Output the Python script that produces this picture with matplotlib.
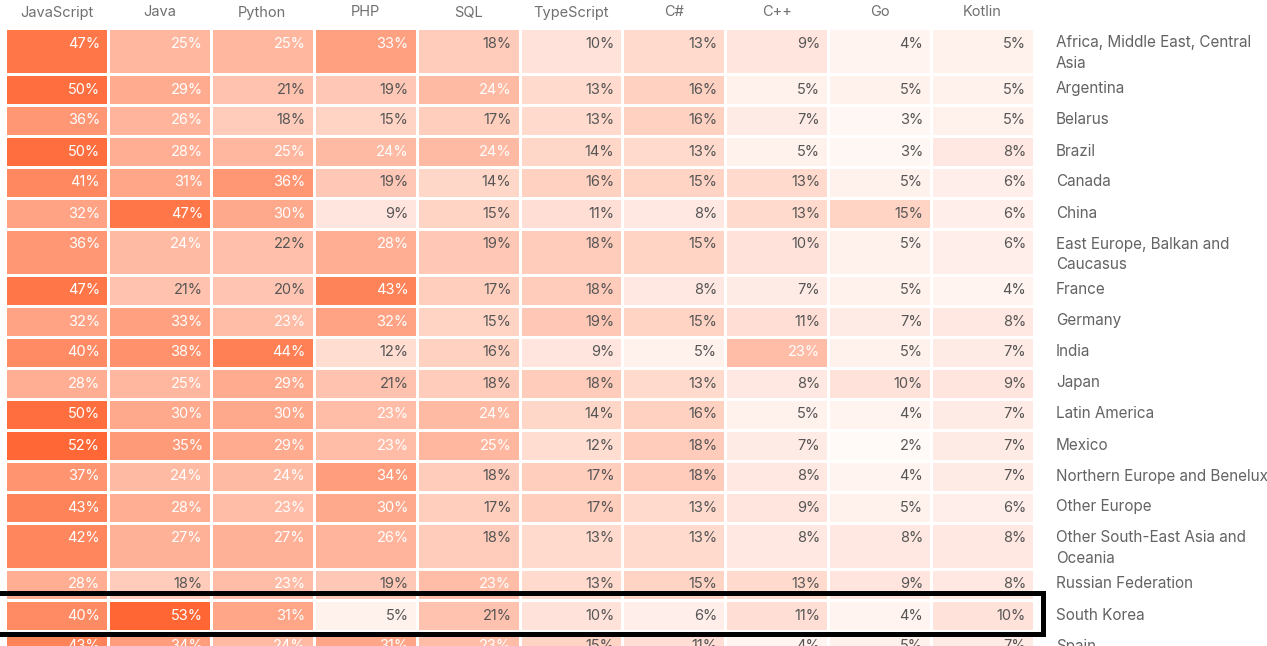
import numpy as np
import matplotlib
matplotlib.use("Agg")
import matplotlib.pyplot as plt
from matplotlib.colors import LinearSegmentedColormap
from matplotlib.patches import Rectangle

plt.rcParams["font.family"] = ["Inter", "DejaVu Sans"]

# ============
# data
# ============
languages = ["JavaScript", "Java", "Python", "PHP", "SQL",
             "TypeScript", "C#", "C++", "Go", "Kotlin"]

regions = [
    "Africa, Middle East, Central\nAsia",
    "Argentina",
    "Belarus",
    "Brazil",
    "Canada",
    "China",
    "East Europe, Balkan and\nCaucasus",
    "France",
    "Germany",
    "India",
    "Japan",
    "Latin America",
    "Mexico",
    "Northern Europe and Benelux",
    "Other Europe",
    "Other South-East Asia and\nOceania",
    "Russian Federation",
    "South Korea",
    "Spain",
]

africa = [47, 25, 25, 33, 18, 10, 13, 9, 4, 5]
argentina = [50, 29, 21, 19, 24, 13, 16, 5, 5, 5]
belarus = [36, 26, 18, 15, 17, 13, 16, 7, 3, 5]
brazil = [50, 28, 25, 24, 24, 14, 13, 5, 3, 8]
canada = [41, 31, 36, 19, 14, 16, 15, 13, 5, 6]
china = [32, 47, 30, 9, 15, 11, 8, 13, 15, 6]
east_europe = [36, 24, 22, 28, 19, 18, 15, 10, 5, 6]
france = [47, 21, 20, 43, 17, 18, 8, 7, 5, 4]
germany = [32, 33, 23, 32, 15, 19, 15, 11, 7, 8]
india = [40, 38, 44, 12, 16, 9, 5, 23, 5, 7]
japan = [28, 25, 29, 21, 18, 18, 13, 8, 10, 9]
latin_america = [50, 30, 30, 23, 24, 14, 16, 5, 4, 7]
mexico = [52, 35, 29, 23, 25, 12, 18, 7, 2, 7]
northern_europe = [37, 24, 24, 34, 18, 17, 18, 8, 4, 7]
other_europe = [43, 28, 23, 30, 17, 17, 13, 9, 5, 6]
other_sea = [42, 27, 27, 26, 18, 13, 13, 8, 8, 8]
russia = [28, 18, 23, 19, 23, 13, 15, 13, 9, 8]
south_korea = [40, 53, 31, 5, 21, 10, 6, 11, 4, 10]
spain = [43, 34, 24, 31, 23, 15, 11, 4, 5, 7]

highlight = "South Korea"

values = np.array([africa, argentina, belarus, brazil, canada, china,
                   east_europe, france, germany, india, japan, latin_america,
                   mexico, northern_europe, other_europe, other_sea, russia,
                   south_korea, spain])

# ============
# layout (pixels)
# ============
W, H = 1267, 646
left, col_w = 5, 102.9
top = 28
line_h = 15
row_h = [31 + line_h * (r.count("\n")) for r in regions]

x_edges = left + col_w * np.arange(len(languages) + 1)
y_edges = top + np.concatenate([[0], np.cumsum(row_h)])

cmap = LinearSegmentedColormap.from_list("orng", ["#ffffff", "#ff6633"])

fig = plt.figure(figsize=(W / 100, H / 100), dpi=100)
ax = fig.add_axes([0, 0, 1, 1])
ax.set_xlim(0, W)
ax.set_ylim(H, 0)
ax.axis("off")

ax.pcolormesh(x_edges, y_edges, values, cmap=cmap, vmin=0, vmax=53,
              edgecolor="white", linewidth=1.0)

# header
for j, lang in enumerate(languages):
    ax.text((x_edges[j] + x_edges[j + 1]) / 2, 12.5, lang, ha="center",
            va="center", fontsize=10.5, color="#707070")

# cell values + row labels (last row is cut by the frame, as in the source)
for i, reg in enumerate(regions):
    yc = y_edges[i] + 15.5
    for j in range(len(languages)):
        v = values[i, j]
        ax.text(x_edges[j + 1] - 8, yc, f"{v}%", ha="right", va="center",
                fontsize=10.5, color="white" if v >= 23 else "#555555",
                clip_on=True)
    ax.text(1056, yc - 8, reg, ha="left", va="top", fontsize=11,
            color="#636363", linespacing=1.45, clip_on=True)

# highlight box
k = regions.index(highlight)
ax.add_patch(Rectangle((-10, y_edges[k] - 7.5), x_edges[-1] + 9 + 10,
                       row_h[k] + 10, fill=False, edgecolor="black",
                       linewidth=3.6, clip_on=False))

fig.savefig("out.png", dpi=100)
plt.close(fig)
